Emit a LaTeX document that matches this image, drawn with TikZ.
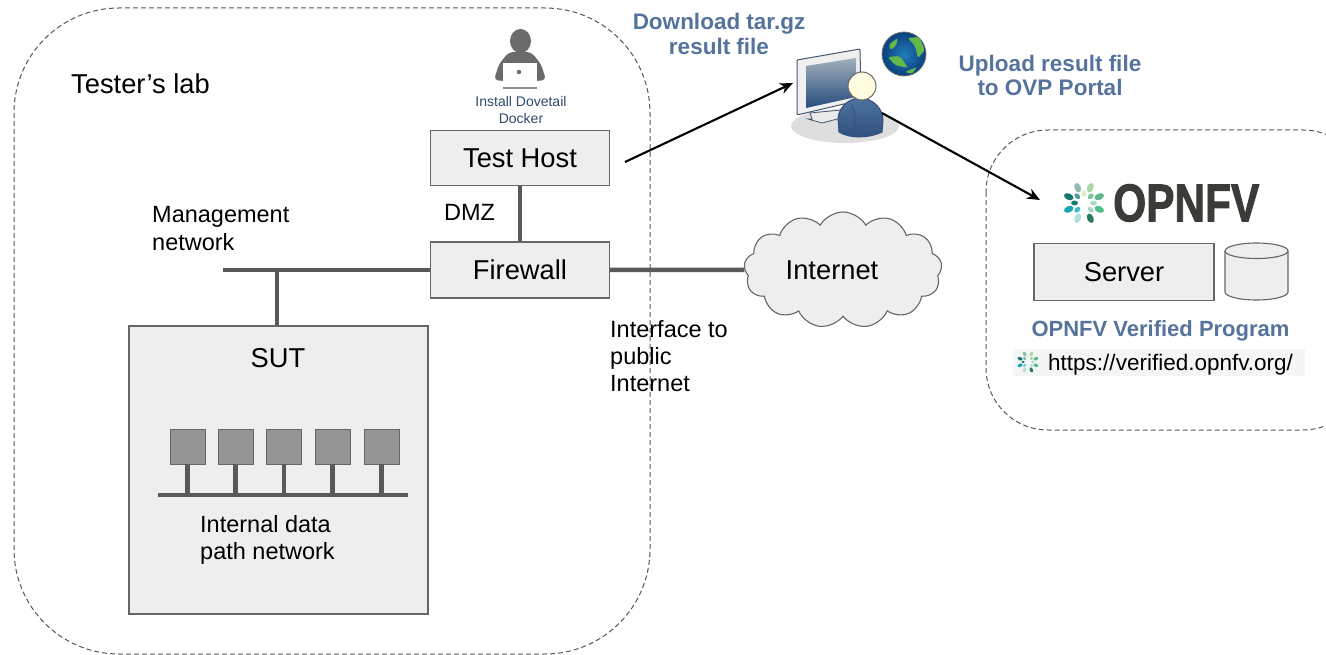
\documentclass[tikz,border=0pt]{standalone}
\usepackage{fontspec}
\setmainfont{Liberation Sans}
\newfontfamily\logofont[FakeBold=2]{Liberation Sans Bold}
\usetikzlibrary{arrows.meta,shapes.symbols}

\definecolor{boxfill}{HTML}{EEEEEE}
\definecolor{boxline}{HTML}{666666}
\definecolor{busline}{HTML}{595959}
\definecolor{titleblue}{HTML}{55739C}
\definecolor{logodark}{HTML}{3A3C38}
\definecolor{iconline}{HTML}{45566E}
\definecolor{screentop}{HTML}{A3AFBC}
\definecolor{screenbot}{HTML}{264C7C}
\definecolor{shirt}{HTML}{4F739F}
\definecolor{shirtdark}{HTML}{2F4F7C}
\definecolor{seablue}{HTML}{1F7DB8}
\definecolor{seadark}{HTML}{0B3F7E}
\definecolor{land}{HTML}{62B84A}
\definecolor{dovetail}{HTML}{2F4A6D}

\tikzset{
  lab/.style={draw=boxline!85!black,dash pattern=on 5pt off 3pt,line width=1pt},
  boxnode/.style={draw=boxline,fill=boxfill,line width=1.1pt,inner sep=0pt,font=\fontsize{27.3}{30}\selectfont},
  bus/.style={draw=busline,line width=4.5pt},
  label/.style={inner sep=0pt,align=left,font=\fontsize{23.5}{27.3}\selectfont},
  title/.style={inner sep=0pt,align=center,text=titleblue,font=\fontsize{22.5}{24.5}\selectfont\bfseries},
  flower/.pic={
    \foreach \a/\c in {22.5/5DB88A,67.5/A8D8A0,112.5/8FBCB0,157.5/15766E,202.5/1AA3B0,247.5/B0DDE0,292.5/2E7A60,337.5/4FC08A}{
      \definecolor{leaf}{HTML}{\c}
      \fill[leaf,rotate=\a] (16.5,0) ellipse (5 and 3.2);
    }
    \foreach \a/\c in {0/A8DCC0,45/7FC6A0,90/DDECC8,135/4F9F98,180/157A70,225/40B8C8,315/A5D5C8}{
      \definecolor{leaf}{HTML}{\c}
      \fill[leaf,rotate=\a] (9.5,0) ellipse (3.4 and 2.4);
    }
  }
}

\begin{document}
\begin{tikzpicture}[x=1pt,y=-1pt]
  \useasboundingbox (0,0) rectangle (1326,655);

  % dashed areas
  \draw[lab,rounded corners=105pt] (14,8) rectangle (650,654);
  \draw[lab,rounded corners=62pt] (986,130) rectangle (1365,430);

  % boxes
  \node[boxnode,minimum width=179pt,minimum height=55pt] (testhost) at (520,158) {Test Host};
  \node[boxnode,minimum width=179pt,minimum height=56pt] (firewall) at (520,270) {Firewall};
  \node[boxnode,minimum width=299pt,minimum height=288pt] (sut) at (278.5,470) {};
  \node[inner sep=0pt,font=\fontsize{27.3}{30}\selectfont] (suttext) at (278,358) {SUT};
  \node[boxnode,minimum width=180pt,minimum height=57pt] (server) at (1124,272) {Server};
  \node[cloud,cloud puffs=13,cloud puff arc=120,aspect=1.75,draw=boxline,fill=boxfill,line width=1.1pt,
        minimum width=198pt,minimum height=116pt,inner sep=0pt] (inet) at (843,270) {};
  \node[inner sep=0pt,font=\fontsize{27.3}{30}\selectfont] (inettext) at (832,270) {Internet};

  % disk
  \filldraw[draw=boxline,fill=boxfill,line width=1.1pt] (1225,251) -- (1225,292) arc (180:360:31.5 and -8) -- (1288,251) arc (0:180:31.5 and -8) -- cycle;
  \draw[boxline,line width=1.1pt] (1225,251) arc (180:360:31.5 and -7.5);

  % networks
  \coordinate (mgmtend) at (223,270);
  \coordinate (sutjoin) at (277,270);
  \draw[bus] (testhost) -- (firewall);
  \draw[bus] (mgmtend) -- (firewall.west);
  \draw[bus] (sutjoin) -- (sutjoin |- sut.north);
  \draw[bus] (firewall.east) -- (inet.west);

  % data path network
  \begin{scope}[every node/.style={draw=boxline,fill=black!42,minimum size=35pt,inner sep=0pt,line width=.8pt}]
    \node (vm1) at (187.5,446.5) {};
    \node (vm2) at (235.5,446.5) {};
    \node (vm3) at (284,446.5) {};
    \node (vm4) at (332.5,446.5) {};
    \node (vm5) at (381.5,446.5) {};
  \end{scope}
  \coordinate (dataleft) at (158,495);
  \coordinate (dataright) at (408,495);
  \draw[bus] (dataleft) -- (dataright);
  \foreach \n in {1,...,5}
    \draw[bus] (vm\n.south) -- (vm\n.south |- dataleft);

  % labels
  \node[label,anchor=west,font=\fontsize{27.3}{30}\selectfont] (lablabel) at (71,84) {Tester’s lab};
  \node[label,anchor=west] (mgmtlabel) at (152,228.5) {Management\\network};
  \node[label,anchor=west] (dmzlabel) at (444,212) {DMZ};
  \node[label,anchor=west] (datalabel) at (200,540) {Internal data\\path network};
  \node[label,anchor=west] (ifacelabel) at (610,356) {Interface to\\public\\Internet};
  \node[title] (download) at (719,34) {Download tar.gz\\result file};
  \node[title] (upload) at (1050,75.5) {Upload result file\\to OVP Portal};
  \node[title,font=\fontsize{22}{24.5}\selectfont\bfseries] (ovp) at (1160.5,331) {OPNFV Verified Program};
  \node[inner sep=0pt,align=center,text=dovetail,
        font=\fontsize{14}{17.5}\selectfont] (install) at (521,110) {Install Dovetail\\Docker};

  % logo
  \pic at (1084,203) {flower};
  \node[inner sep=0pt,anchor=west,text=logodark,font=\fontsize{53}{55}\logofont] (logo) at (1113,203) {\scalebox{.8}[1]{OPNFV}};

  % url bar
  \fill[black!4] (1013,349) rectangle (1305,376);
  \pic[scale=.52] at (1028,362) {flower};
  \node[inner sep=0pt,anchor=west,font=\fontsize{22.5}{25}\selectfont] (url) at (1048,365) {https://verified.opnfv.org/};

  % person at laptop
  \fill[black!58] (520.5,41) ellipse (10.5 and 12);
  \fill[black!58,rounded corners=4pt] (509,52) -- (531,52) -- (541,64) -- (546,80) -- (537,81) -- (503,81) -- (494,80) -- (499,64) -- cycle;
  \fill[white] (503,63) rectangle (537,86);
  \fill[black!58] (519,72) circle (2.2);
  \fill[black!45] (503,87) rectangle (537,89);

  % workstation
  \fill[black!13] (845,126) ellipse (54 and 17);
  \filldraw[draw=iconline,fill=black!8,line width=.8pt] (810,113) -- (812,119) -- (808,119) -- (822,123) -- (845,117) -- (841,110) -- cycle;
  \filldraw[draw=iconline,fill=white!94!black,line width=1pt,rounded corners=1pt] (797,60) -- (860,49) -- (861,100) -- (797,115) -- cycle;
  \shade[top color=screentop,bottom color=screenbot] (806,66) -- (856,58) -- (856,97) -- (806,108) -- cycle;
  \shade[top color=shirt,bottom color=shirtdark,draw=shirtdark,line width=1pt] (839,132) -- (838,118) .. controls (840,103) and (853,98) .. (860,98) .. controls (872,98) and (883,108) .. (883,120) -- (882,132) .. controls (870,138) and (850,139) .. (839,132) -- cycle;
  \draw[shirtdark,line width=.8pt] (852,105) .. controls (856,115) and (856,125) .. (853,134);
  \filldraw[draw=black!60,fill=yellow!12,line width=1pt] (862,86) circle (14);

  % globe
  \shade[inner color=seablue,outer color=seadark] (904,54) circle (22);
  \draw[black!55,line width=.8pt] (904,54) circle (22);
  \begin{scope}[land,rounded corners=2pt]
    \fill (889,44) -- (898,38) -- (896,46) -- (890,50) -- cycle;
    \fill (908,38) -- (919,37) -- (925,50) -- (918,58) -- (915,46) -- cycle;
    \fill (888,57) -- (900,56) -- (908,68) -- (895,65) -- cycle;
    \fill (905,72) -- (917,67) -- (912,74) -- cycle;
  \end{scope}

  % arrows
  \coordinate (testout) at (625,162);
  \coordinate (pcin) at (793,83);
  \coordinate (pcout) at (882,113);
  \coordinate (logoin) at (1040,200);
  \draw[-{Stealth[length=13pt,width=11pt]},line width=2.1pt] (testout) -- (pcin);
  \draw[-{Stealth[length=13pt,width=11pt]},line width=2.1pt] (pcout) -- (logoin);
\end{tikzpicture}
\end{document}
